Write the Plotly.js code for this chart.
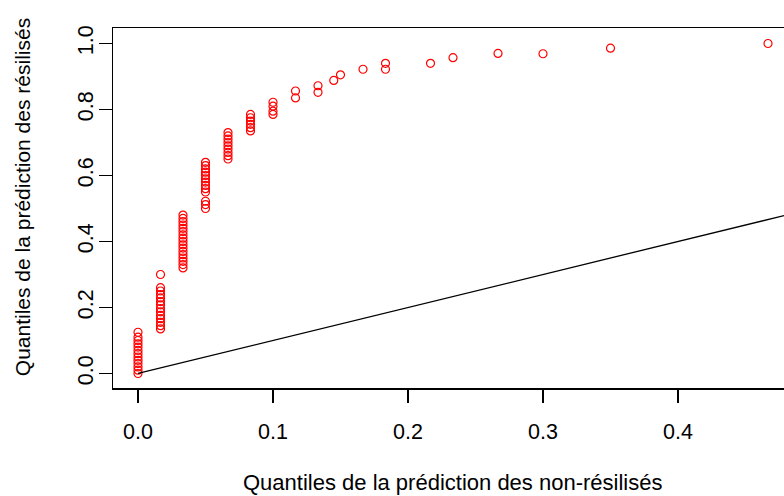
<!DOCTYPE html>
<html>
<head>
<meta charset="utf-8">
<script src="https://cdn.plot.ly/plotly-3.0.1.min.js"></script>
<style>
html, body { margin: 0; padding: 0; overflow: hidden; background: #fff; }
#chart { width: 800px; height: 496px; }
</style>
</head>
<body>
<div id="chart"></div>
<script>
// Quantiles of the prediction for non-resiliated (x) and resiliated (y)
const quantNonResil = [
  0, 0, 0, 0, 0, 0, 0, 0, 0, 0, 0, 0, 0,
  0.01667, 0.01667, 0.01667, 0.01667, 0.01667, 0.01667, 0.01667, 0.01667, 0.01667, 0.01667, 0.01667, 0.01667, 0.01667, 0.01667,
  0.03333, 0.03333, 0.03333, 0.03333, 0.03333, 0.03333, 0.03333, 0.03333, 0.03333, 0.03333, 0.03333, 0.03333, 0.03333, 0.03333, 0.03333, 0.03333, 0.03333,
  0.05, 0.05, 0.05, 0.05, 0.05, 0.05, 0.05, 0.05, 0.05, 0.05, 0.05, 0.05, 0.05,
  0.06667, 0.06667, 0.06667, 0.06667, 0.06667, 0.06667, 0.06667, 0.06667, 0.06667,
  0.08333, 0.08333, 0.08333, 0.08333, 0.08333, 0.08333,
  0.1, 0.1, 0.1, 0.1,
  0.11667, 0.11667,
  0.13333, 0.13333,
  0.145, 0.15, 0.16667, 0.18333, 0.18333, 0.21667, 0.23333, 0.26667, 0.3, 0.35, 0.46667
];
const quantResil = [
  0, 0.01, 0.02, 0.03, 0.04, 0.05, 0.06, 0.07, 0.08, 0.09, 0.10, 0.11, 0.125,
  0.135, 0.145, 0.155, 0.166, 0.176, 0.187, 0.197, 0.208, 0.218, 0.229, 0.239, 0.25, 0.26, 0.30,
  0.32, 0.33, 0.34, 0.35, 0.36, 0.37, 0.38, 0.39, 0.40, 0.41, 0.42, 0.43, 0.44, 0.45, 0.46, 0.47, 0.48,
  0.50, 0.512, 0.522, 0.55, 0.56, 0.57, 0.58, 0.59, 0.60, 0.61, 0.62, 0.63, 0.64,
  0.65, 0.66, 0.67, 0.68, 0.69, 0.70, 0.71, 0.72, 0.73,
  0.735, 0.745, 0.755, 0.765, 0.775, 0.785,
  0.785, 0.795, 0.81, 0.822,
  0.835, 0.856,
  0.852, 0.872,
  0.888, 0.905, 0.922, 0.922, 0.94, 0.94, 0.957, 0.97, 0.969, 0.986, 1.0
];
// Reference line y = x
const refLineX = [0, 1];
const refLineY = [0, 1];

const xTickVals = [0, 0.1, 0.2, 0.3, 0.4];
const xTickText = ["0.0", "0.1", "0.2", "0.3", "0.4"];
const yTickVals = [0, 0.2, 0.4, 0.6, 0.8, 1.0];
const yTickText = ["0.0", "0.2", "0.4", "0.6", "0.8", "1.0"];

const xTitle = "Quantiles de la prédiction des non-résilisés";
const yTitle = "Quantiles de la prédiction des résilisés";

const FONT = "Liberation Sans, Arial, sans-serif";

const traces = [
  {
    x: quantNonResil, y: quantResil,
    type: "scatter", mode: "markers",
    marker: { symbol: "circle-open", size: 8, color: "#ff0000", line: { width: 1.2, color: "#ff0000" } },
    hoverinfo: "x+y", showlegend: false, cliponaxis: true
  },
  {
    x: refLineX, y: refLineY,
    type: "scatter", mode: "lines",
    line: { color: "#000000", width: 1.3 },
    hoverinfo: "skip", showlegend: false
  }
];

const layout = {
  width: 800, height: 496,
  margin: { l: 113, r: 8, t: 28, b: 108, pad: 0 },
  paper_bgcolor: "#ffffff", plot_bgcolor: "#ffffff",
  font: { family: FONT, size: 21, color: "#000000" },
  showlegend: false,
  xaxis: {
    range: [-0.01852, 0.48444], autorange: false,
    tickmode: "array", tickvals: xTickVals, ticktext: xTickText,
    ticks: "outside", ticklen: 13, tickwidth: 1.3, tickcolor: "#000",
    showline: true, mirror: true, linecolor: "#000", linewidth: 1.5,
    showgrid: false, zeroline: false,
    ticklabelstandoff: 11,
    tickfont: { family: FONT, size: 21.5, color: "#000" }
  },
  yaxis: {
    range: [-0.044, 1.047], autorange: false,
    tickmode: "array", tickvals: yTickVals, ticktext: yTickText,
    tickangle: -90,
    ticks: "outside", ticklen: 13, tickwidth: 1.3, tickcolor: "#000",
    showline: true, mirror: true, linecolor: "#000", linewidth: 1.5,
    showgrid: false, zeroline: false,
    ticklabelstandoff: -3,
    tickfont: { family: FONT, size: 21.5, color: "#000" }
  },
  annotations: [
    {
      text: xTitle, xref: "paper", yref: "paper", x: 0.5, y: 0,
      xanchor: "center", yanchor: "middle", yshift: -94, showarrow: false,
      font: { family: FONT, size: 22, color: "#000" }
    },
    {
      text: yTitle, xref: "paper", yref: "paper", x: 0, y: 0.53,
      xanchor: "center", yanchor: "middle", xshift: -91, textangle: -90, showarrow: false,
      font: { family: FONT, size: 21, color: "#000" }
    }
  ]
};

Plotly.newPlot("chart", traces, layout, { staticPlot: true, displayModeBar: false });
</script>
</body>
</html>
